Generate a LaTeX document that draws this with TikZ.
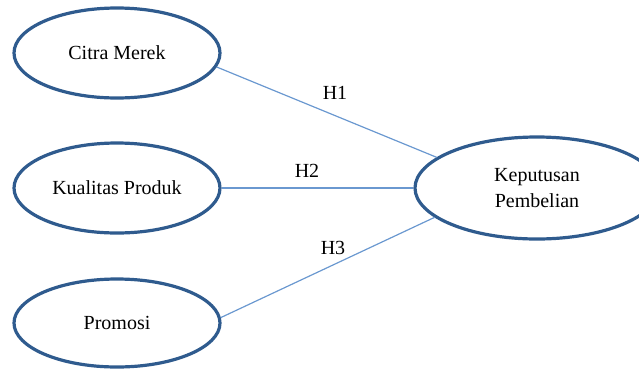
\documentclass[tikz,border=0pt]{standalone}
\usepackage{fontspec}
\setmainfont{Liberation Serif}
\usetikzlibrary{shapes.geometric}
\definecolor{ellborder}{HTML}{2F5B8E}
\definecolor{linkblue}{HTML}{6A98D0}
\tikzset{
  varell/.style={ellipse, draw=ellborder, line width=3.2pt, fill=white, inner sep=0pt,
    font=\fontsize{20}{26}\selectfont, align=center},
  link/.style={draw=linkblue, line width=1.2pt},
  hlabel/.style={font=\fontsize{20}{24}\selectfont, inner sep=0pt}
}
\begin{document}
\begin{tikzpicture}[x=1pt,y=-1pt]
\useasboundingbox (0,0) rectangle (639,370);
\clip (0,0) rectangle (639,370);
\node[varell, minimum width=206pt, minimum height=90pt] (cm) at (117,53) {Citra Merek};
\node[varell, minimum width=206pt, minimum height=90pt] (kp) at (117,188) {Kualitas Produk};
\node[varell, minimum width=206pt, minimum height=88pt] (pr) at (117,323) {Promosi};
\node[varell, minimum width=244pt, minimum height=102pt] (kb) at (537,188) {Keputusan\\Pembelian};
\draw[link] (cm.-8.5) -- (kb.163);
\draw[link] (kp.east) -- (kb.west);
\draw[link] (pr.3) -- (kb.-164);
\node[hlabel] (h1) at (335,93) {H1};
\node[hlabel] (h2) at (307,171) {H2};
\node[hlabel] (h3) at (333,248) {H3};
\end{tikzpicture}
\end{document}
